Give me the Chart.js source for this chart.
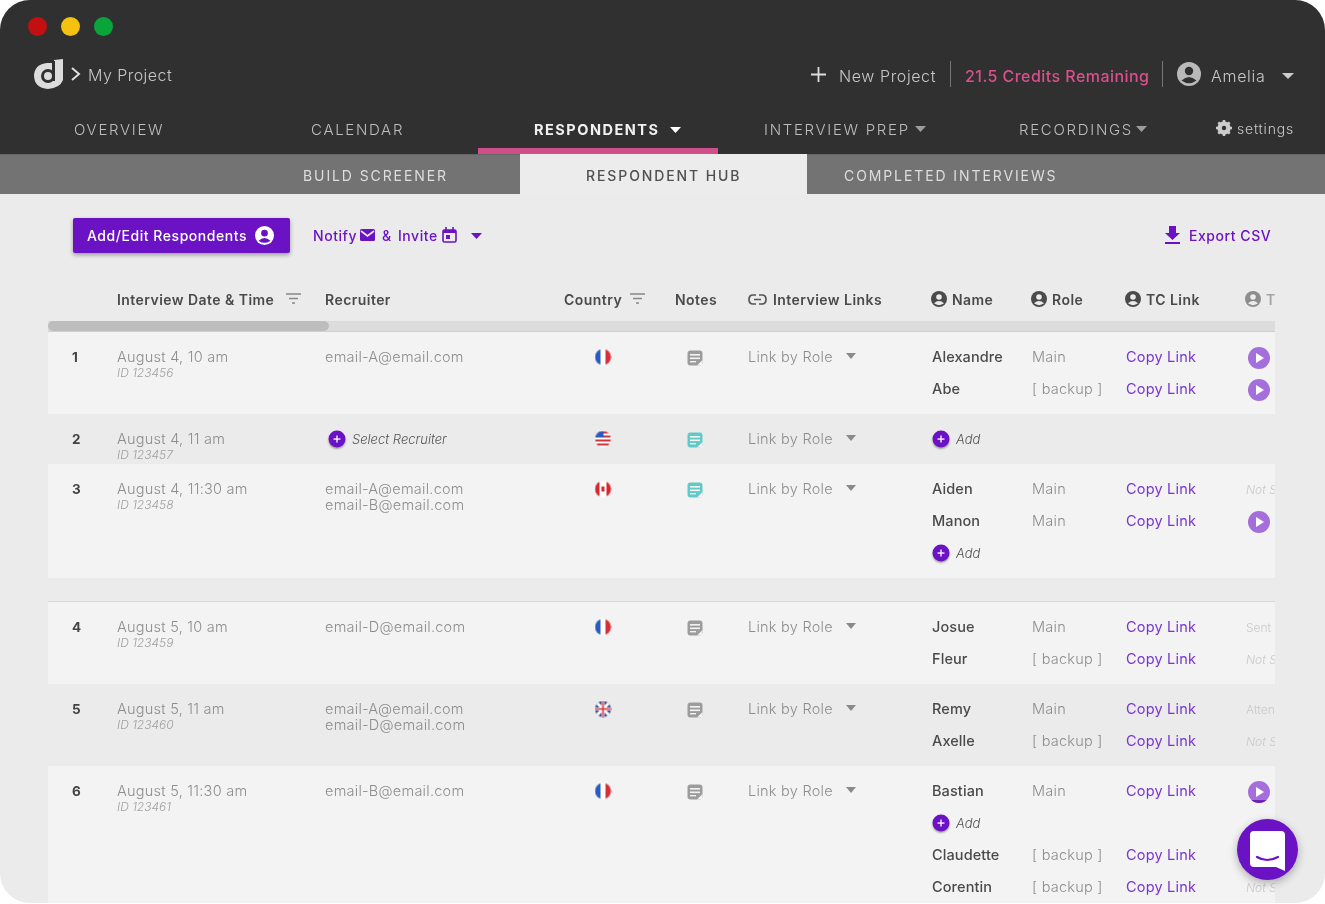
<!DOCTYPE html>
<html>
<head>
<meta charset="utf-8">
<title>Respondent Hub</title>
<script src="https://cdn.jsdelivr.net/npm/chart.js@4"></script>
<style>
  html, body { margin: 0; width: 1325px; height: 904px; overflow: hidden; background: #fff; }
  body, #app * { font-family: Inter, "Open Sans", sans-serif; box-sizing: border-box; }
  #app { position: absolute; left: 0; top: 0; width: 1325px; height: 903px; background: #ebebeb; border-radius: 30px; overflow: hidden; }
  #top { position: absolute; left: 0; top: 0; width: 100%; height: 154px; background: #303030; }
  #sub { position: absolute; left: 0; top: 154px; width: 100%; height: 40px; background: #737373; border-top: 1px solid #666; }
  #chart { position: absolute; left: 0; top: 0; }
  #table { position: absolute; left: 48px; top: 332px; width: 1227px; height: 572px; overflow: hidden; }
  .t { position: absolute; white-space: nowrap; transform: translateY(calc(-50% - 1px)); }
  .dot { position: absolute; width: 19px; height: 19px; border-radius: 50%; top: 17px; }
  .nav { font-size: 15px; letter-spacing: 1.7px; font-weight: 300; color: #bdbdbd; }
  .tab { font-size: 14px; letter-spacing: 1.9px; font-weight: 400; color: #dedede; }
  .head { font-size: 14px; letter-spacing: .45px; font-weight: 600; color: #4a4a4a; }
  .cell { font-size: 14.5px; font-weight: 300; color: #8d8d8d; letter-spacing: .25px; }
  .id { font-size: 12px; font-style: italic; font-weight: 300; color: #a0a0a0; }
  .name { font-size: 14.5px; letter-spacing: .1px; font-weight: 500; color: #4a4a4a; }
  .link { font-size: 14.5px; letter-spacing: .2px; font-weight: 400; color: #7b36d2; }
  .num { font-size: 13.5px; font-weight: 700; color: #444; }
  .it { font-size: 13px; font-style: italic; font-weight: 300; color: #555; }
  .faint { font-size: 12px; font-weight: 300; color: #c9c9c9; }
  .faint.i { font-style: italic; }
  .act { font-size: 14px; letter-spacing: .55px; font-weight: 500; color: #6a12c4; }
  svg { position: absolute; }
  #btn { position: absolute; left: 73px; top: 218px; width: 217px; height: 35px; background: #6a12c4; border-radius: 2px; box-shadow: 0 2px 4px rgba(0,0,0,.35); }
  #chat { position: absolute; left: 1237px; top: 819px; width: 61px; height: 61px; border-radius: 50%; background: #6a12c4; box-shadow: 0 3px 8px rgba(0,0,0,.3); }
  .sep { position: absolute; width: 1px; background: #777; top: 61px; height: 26px; }
</style>
</head>
<body>
<div id="app">
  <div id="top"></div>
  <div id="sub"></div>
  <div style="position:absolute;left:520px;top:154px;width:287px;height:41px;background:#ececec"></div>
  <div style="position:absolute;left:478px;top:148px;width:240px;height:6px;background:#cf4f8a"></div>
  <div class="dot" style="left:28px;background:#c21012"></div>
  <div class="dot" style="left:61px;background:#f5c211"></div>
  <div class="dot" style="left:94px;background:#0aa53a"></div>
  <svg style="left:32px;top:58px" width="34" height="32" viewBox="0 0 34 32"><path d="M22 2 L31 1 V22 Q28 30 16 31 Q2 30 2 17 Q3 6 15 5 L22 5Z" fill="#dcdcdc"/><circle cx="16" cy="18" r="5.5" fill="none" stroke="#303030" stroke-width="3"/><rect x="20" y="3" width="3" height="20" fill="#303030"/></svg>
  <svg style="left:70px;top:67px" width="11" height="14"><path d="M2 1 L9 7 L2 13" fill="none" stroke="#ddd" stroke-width="2"/></svg>
  <svg style="left:810px;top:66px" width="17" height="17"><path d="M8.5 1V16M1 8.5H16" stroke="#ddd" stroke-width="1.8"/></svg>
  <div class="sep" style="left:950px"></div>
  <div class="sep" style="left:1162px"></div>
  <svg style="left:1177px;top:62px" width="24" height="24" viewBox="0 0 24 24"><circle cx="12" cy="12" r="12" fill="#b9b9b9"/><circle cx="12" cy="9" r="4.2" fill="#303030"/><path d="M4.5 18.5Q12 11.5 19.5 18.5Q12 24 4.5 18.5Z" fill="#303030"/></svg>
  <svg style="left:1282px;top:73px" width="12" height="7"><path d="M0 0H12L6 6Z" fill="#ccc"/></svg>
  <svg style="left:670px;top:127px" width="11" height="7"><path d="M0 0H11L5.5 6Z" fill="#fff"/></svg>
  <svg style="left:915px;top:126px" width="11" height="7"><path d="M0 0H11L5.5 6Z" fill="#9c9c9c"/></svg>
  <svg style="left:1136px;top:126px" width="11" height="7"><path d="M0 0H11L5.5 6Z" fill="#9c9c9c"/></svg>
  <svg style="left:1216px;top:120px" width="16" height="16" viewBox="0 0 16 16"><circle cx="8" cy="8" r="5" fill="none" stroke="#ccc" stroke-width="3.4"/><path d="M8 0V16M0 8H16M2.3 2.3L13.7 13.7M13.7 2.3L2.3 13.7" stroke="#ccc" stroke-width="2.4"/><circle cx="8" cy="8" r="2.2" fill="#303030"/></svg>
  <div id="btn"></div>
  <svg style="left:255px;top:226px" width="19" height="19" viewBox="0 0 24 24"><circle cx="12" cy="12" r="12" fill="#fff"/><circle cx="12" cy="9" r="4.2" fill="#6a12c4"/><path d="M4.5 18.5Q12 11.5 19.5 18.5Q12 24 4.5 18.5Z" fill="#6a12c4"/></svg>
  <svg style="left:360px;top:229px" width="15" height="12"><rect width="15" height="12" rx="1.5" fill="#6a12c4"/><path d="M1 2L7.5 7L14 2" fill="none" stroke="#ececec" stroke-width="1.6"/></svg>
  <svg style="left:442px;top:227px" width="15" height="16"><rect x="1" y="3" width="13" height="12" rx="1.5" fill="none" stroke="#6a12c4" stroke-width="1.6"/><rect x="1" y="3" width="13" height="3" fill="#6a12c4"/><path d="M4 0V4M11 0V4" stroke="#6a12c4" stroke-width="1.6"/><rect x="4" y="8" width="4" height="4" fill="#6a12c4"/></svg>
  <svg style="left:471px;top:233px" width="11" height="6"><path d="M0 0H11L5.5 6Z" fill="#6a12c4"/></svg>
  <svg style="left:1164px;top:226px" width="17" height="19"><path d="M5 0H12V7H16L8.5 14L1 7H5Z" fill="#6a12c4"/><rect x="1" y="16" width="15" height="2" fill="#6a12c4"/></svg>
  <svg style="left:286px;top:293px" width="15" height="11"><path d="M0 1H15M3 5.5H12M6 10H9" stroke="#888" stroke-width="1.5"/></svg>
  <svg style="left:630px;top:293px" width="15" height="11"><path d="M0 1H15M3 5.5H12M6 10H9" stroke="#888" stroke-width="1.5"/></svg>
  <svg style="left:748px;top:294px" width="19" height="11"><path d="M8 1H5Q1 1 1 5.5Q1 10 5 10H8M11 1H14Q18 1 18 5.5Q18 10 14 10H11M6 5.5H13" fill="none" stroke="#555" stroke-width="1.7"/></svg>
  <div style="position:absolute;left:48px;top:321px;width:1227px;height:11px;background:#dcdcdc;border-bottom:1px solid #d0d0d0"></div>
  <div style="position:absolute;left:48px;top:321px;width:281px;height:10px;background:#bdbdbd;border-radius:5px"></div>
  <canvas id="chart" width="1325" height="904"></canvas>
  <div id="table"></div>
  <div id="chat"><svg style="left:12px;top:11px" width="37" height="42" viewBox="0 0 37 42"><path d="M5 1H32Q36 1 36 5V41L27 37H5Q1 37 1 33V5Q1 1 5 1Z" fill="#fff"/><path d="M8 27Q18 33 29 27" fill="none" stroke="#6a12c4" stroke-width="2.2" stroke-linecap="round"/></svg></div>
</div>
<script>
const rowNumbers = ["1", "2", "3", "4", "5", "6"]
const dates = ["August 4, 10 am", "August 4, 11 am", "August 4, 11:30 am", "August 5, 10 am", "August 5, 11 am", "August 5, 11:30 am"]
const ids = ["ID 123456", "ID 123457", "ID 123458", "ID 123459", "ID 123460", "ID 123461"]
const recruiters = [["email-A@email.com"], [], ["email-A@email.com", "email-B@email.com"], ["email-D@email.com"], ["email-A@email.com", "email-D@email.com"], ["email-B@email.com"]]
const countries = ["fr", "us", "ca", "fr", "uk", "fr"]
const noteKinds = ["grey", "teal", "teal", "grey", "grey", "grey"]
// one entry per person line in the row: [name, role, status], null is an Add button
const people = [
  [["Alexandre", "Main", "play"], ["Abe", "[ backup ]", "play"]],
  [null],
  [["Aiden", "Main", "Not Sent"], ["Manon", "Main", "play"], null],
  [["Josue", "Main", "Sent"], ["Fleur", "[ backup ]", "Not Sent"]],
  [["Remy", "Main", "Attended"], ["Axelle", "[ backup ]", "Not Sent"]],
  [["Bastian", "Main", "playing"], null, ["Claudette", "[ backup ]", ""], ["Corentin", "[ backup ]", "Not Sent"]]
]
const headers = ["Interview Date & Time", "Recruiter", "Country", "Notes", "Interview Links"]
const personHeaders = ["Name", "Role", "TC Link", "T"]
const navLabels = ["OVERVIEW", "CALENDAR", "RESPONDENTS", "INTERVIEW PREP", "RECORDINGS"]
const subTabs = ["BUILD SCREENER", "RESPONDENT HUB", "COMPLETED INTERVIEWS"]

// layout of the sheet, all in page pixels
const FIRST_ROW_TOP = 332, LINE = 32, ROW_PAD = 18, FIRST_LINE = 25, GAP_AFTER = 2, GAP = 24
const COL = { num: 72, date: 117, rec: 325, country: 603, notes: 695, links: 748, caret: 851, name: 932, role: 1032, tc: 1126, status: 1246, play: 1259 }

const rowTops = []
let nextTop = FIRST_ROW_TOP
people.forEach((lines, i) => {
  rowTops.push(nextTop)
  nextTop += ROW_PAD + LINE * lines.length
  if (i === GAP_AFTER) nextTop += GAP
})
const rowBottom = i => rowTops[i] + ROW_PAD + LINE * people[i].length
const lineY = (row, n) => rowTops[row] + FIRST_LINE + LINE * n

function icon(size, draw) {
  const c = document.createElement("canvas")
  c.width = c.height = size
  const ctx = c.getContext("2d")
  draw(ctx, size / 2)
  return c
}

function flag(kind) {
  return icon(17, (g, m) => {
    g.beginPath(); g.arc(m, m, 8, 0, Math.PI * 2); g.clip()
    g.fillStyle = "#fff"; g.fillRect(0, 0, 17, 17)
    if (kind === "fr") {
      g.fillStyle = "#2a5bc0"; g.fillRect(0, 0, 6, 17)
      g.fillStyle = "#d8303a"; g.fillRect(11, 0, 6, 17)
    } else if (kind === "ca") {
      g.fillStyle = "#d8252f"; g.fillRect(0, 0, 5, 17); g.fillRect(12, 0, 5, 17); g.fillRect(7, 6, 3, 5)
    } else if (kind === "us") {
      g.fillStyle = "#d8303a"
      for (let y = 1; y < 17; y += 4) g.fillRect(0, y, 17, 2)
      g.fillStyle = "#2a5bc0"; g.fillRect(0, 0, 9, 7)
    } else {
      g.fillStyle = "#2f4a92"; g.fillRect(0, 0, 17, 17)
      g.strokeStyle = "#fff"; g.lineWidth = 3
      g.beginPath(); g.moveTo(0, 0); g.lineTo(17, 17); g.moveTo(17, 0); g.lineTo(0, 17); g.moveTo(8.5, 0); g.lineTo(8.5, 17); g.moveTo(0, 8.5); g.lineTo(17, 8.5); g.stroke()
      g.strokeStyle = "#d8303a"; g.lineWidth = 1.6
      g.beginPath(); g.moveTo(8.5, 0); g.lineTo(8.5, 17); g.moveTo(0, 8.5); g.lineTo(17, 8.5); g.stroke()
    }
  })
}

function note(color) {
  return icon(16, g => {
    g.fillStyle = color
    g.beginPath(); g.roundRect(0.5, 0.5, 15, 15, 3); g.fill()
    g.fillStyle = "#f3f3f3"
    g.fillRect(3, 4, 10, 1.6); g.fillRect(3, 7.5, 10, 1.6); g.fillRect(3, 11, 6, 1.4)
    g.beginPath(); g.moveTo(15.5, 10); g.lineTo(10, 15.5); g.lineTo(15.5, 15.5); g.fill()
  })
}

function play(progress) {
  return icon(24, (g, m) => {
    g.save()
    g.beginPath(); g.arc(m, m, 11, 0, Math.PI * 2); g.clip()
    g.fillStyle = "#a56fdb"; g.fillRect(0, 0, 24, 24)
    if (progress) { g.fillStyle = "#6a24b8"; g.fillRect(0, 20, 24, 4) }
    g.restore()
    g.fillStyle = "#fff"
    g.beginPath(); g.moveTo(9, 7); g.lineTo(17, 12); g.lineTo(9, 17); g.fill()
  })
}

const addIcon = icon(24, (g, m) => {
  g.shadowColor = "rgba(0,0,0,.35)"; g.shadowBlur = 2; g.shadowOffsetY = 1.5
  g.fillStyle = "#6a12c4"
  g.beginPath(); g.arc(m, m - 1, 8.5, 0, Math.PI * 2); g.fill()
  g.shadowColor = "transparent"
  g.fillStyle = "#fff"
  g.fillRect(m - 3.5, m - 1.6, 7, 1.3); g.fillRect(m - 0.65, m - 4.5, 1.3, 7)
})

const caretIcon = icon(12, g => {
  g.fillStyle = "#8a8a8a"
  g.beginPath(); g.moveTo(1, 3); g.lineTo(11, 3); g.lineTo(6, 9); g.fill()
})

const flagPoints = [], flagStyles = [], notePoints = [], noteStyles = [], caretPoints = [], playPoints = [], playStyles = [], addPoints = []
people.forEach((lines, r) => {
  flagPoints.push({ x: COL.country, y: lineY(r, 0) })
  flagStyles.push(flag(countries[r]))
  notePoints.push({ x: COL.notes, y: lineY(r, 0) + 1 })
  noteStyles.push(note(noteKinds[r] === "teal" ? "#62c9c9" : "#9c9c9c"))
  caretPoints.push({ x: COL.caret, y: lineY(r, 0) - 1 })
  lines.forEach((p, n) => {
    if (p === null) addPoints.push({ x: COL.name + 9, y: lineY(r, n) + 1 })
    else if (p[2] === "play" || p[2] === "playing") {
      playPoints.push({ x: COL.play, y: lineY(r, n) + 1 })
      playStyles.push(play(p[2] === "playing"))
    }
  })
})
addPoints.push({ x: COL.rec + 12, y: lineY(1, 0) + 1 })

const rowBands = {
  id: "rowBands",
  beforeDatasetsDraw(chart) {
    const { ctx, scales: { x, y } } = chart
    people.forEach((_, r) => {
      ctx.fillStyle = r === 1 || r === 4 ? "#ebebeb" : "#f3f3f3"
      ctx.fillRect(x.getPixelForValue(48), y.getPixelForValue(rowTops[r]), x.getPixelForValue(1275) - x.getPixelForValue(48), y.getPixelForValue(rowBottom(r)) - y.getPixelForValue(rowTops[r]))
    })
    ctx.fillStyle = "#d8d8d8"
    ctx.fillRect(x.getPixelForValue(48), y.getPixelForValue(rowTops[3]) - 1, 1227, 1)
  }
}

const scatter = (data, pointStyle) => ({ type: "scatter", data, pointStyle, pointRadius: 10, pointBorderWidth: 0 })

const chart = new Chart(document.getElementById("chart"), {
  data: {
    datasets: [
      scatter(flagPoints, flagStyles),
      scatter(notePoints, noteStyles),
      scatter(playPoints, playStyles),
      scatter(addPoints, addIcon),
      scatter(caretPoints, caretIcon)
    ]
  },
  options: {
    responsive: false,
    animation: false,
    events: [],
    layout: { padding: 0, autoPadding: false },
    plugins: { legend: { display: false }, tooltip: { enabled: false } },
    scales: {
      x: { type: "linear", min: 0, max: 1325, display: false },
      y: { type: "linear", min: 0, max: 904, reverse: true, display: false }
    }
  },
  plugins: [rowBands]
})

// page text goes through the same scales as the marks
const app = document.getElementById("app")
const table = document.getElementById("table")
const sx = v => chart.scales.x.getPixelForValue(v)
const sy = v => chart.scales.y.getPixelForValue(v)

function put(parent, label, x, y, cls, css) {
  const s = document.createElement("span")
  s.className = "t " + cls
  s.textContent = label
  const clipped = parent === table
  s.style.left = sx(x) - (clipped ? 48 : 0) + "px"
  s.style.top = sy(y) - (clipped ? FIRST_ROW_TOP : 0) + "px"
  if (css) s.style.cssText += css
  parent.appendChild(s)
}

people.forEach((lines, r) => {
  const y0 = lineY(r, 0)
  put(table, rowNumbers[r], COL.num, y0 + 1, "num")
  put(table, dates[r], COL.date, y0, "cell")
  put(table, ids[r], COL.date, y0 + 16, "id")
  recruiters[r].forEach((m, i) => put(table, m, COL.rec, y0 + 16 * i, "cell"))
  put(table, "Link by Role", COL.links, y0, "cell")
  lines.forEach((p, n) => {
    const y = lineY(r, n)
    if (p === null) { put(table, "Add", COL.name + 24, y + 1, "it"); return }
    put(table, p[0], COL.name, y, "name")
    put(table, p[1], COL.role, y, "cell")
    put(table, "Copy Link", COL.tc, y, "link")
    if (p[2] && !p[2].startsWith("play")) put(table, p[2], COL.status, y + 1, p[2] === "Not Sent" ? "faint i" : "faint")
  })
})
put(table, "Select Recruiter", COL.rec + 27, lineY(1, 0) + 1, "it")

const headerX = [COL.date, COL.rec, 564, 675, 773]
headers.forEach((h, i) => put(app, h, headerX[i], 300, "head"))
const personHeaderX = [952, 1052, 1146]
personHeaders.slice(0, 3).forEach((h, i) => put(app, h, personHeaderX[i], 300, "head"))
const personIconX = [931, 1031, 1125]
personIconX.forEach(x => {
  app.insertAdjacentHTML("beforeend", `<svg style="left:${x}px;top:291px" width="16" height="16" viewBox="0 0 24 24"><circle cx="12" cy="12" r="12" fill="#4a4a4a"/><circle cx="12" cy="9" r="4.2" fill="#ececec"/><path d="M4.5 18.5Q12 11.5 19.5 18.5Q12 24 4.5 18.5Z" fill="#ececec"/></svg>`)
})
app.insertAdjacentHTML("beforeend", `<svg style="left:1245px;top:291px" width="16" height="16" viewBox="0 0 24 24"><circle cx="12" cy="12" r="12" fill="#8d8d8d"/><circle cx="12" cy="9" r="4.2" fill="#ececec"/><path d="M4.5 18.5Q12 11.5 19.5 18.5Q12 24 4.5 18.5Z" fill="#ececec"/></svg>`)
put(app, personHeaders[3], 1266, 300, "head", "color:#a5a5a5")

const navX = [74, 311, 534, 764, 1019]
navLabels.forEach((n, i) => put(app, n, navX[i], 130, "nav", i === 2 ? "font-size:14.5px;letter-spacing:1.5px;font-weight:700;color:#f0f0f0" : ""))
const subX = [303, 586, 844]
subTabs.forEach((n, i) => put(app, n, subX[i], 176, "tab", i === 1 ? "color:#4f4f4f;font-weight:500" : ""))

const topCss = "font-size:16px;letter-spacing:"
put(app, "My Project", 88, 76, "nav", topCss + ".45px;color:#c8c8c8")
put(app, "New Project", 839, 77, "nav", topCss + ".6px;color:#c8c8c8")
put(app, "21.5 Credits Remaining", 965, 77, "nav", topCss + ".45px;font-weight:500;color:#d9508c")
put(app, "Amelia", 1211, 77, "nav", topCss + ".7px;color:#c8c8c8")
put(app, "settings", 1237, 129, "nav", "letter-spacing:.8px;font-size:14px;color:#c8c8c8")
put(app, "Add/Edit Respondents", 87, 236, "act", "color:#fff;z-index:2")
put(app, "Notify", 313, 236, "act")
put(app, "&", 382, 236, "act")
put(app, "Invite", 398, 236, "act")
put(app, "Export CSV", 1189, 236, "act")
</script>
</body>
</html>
